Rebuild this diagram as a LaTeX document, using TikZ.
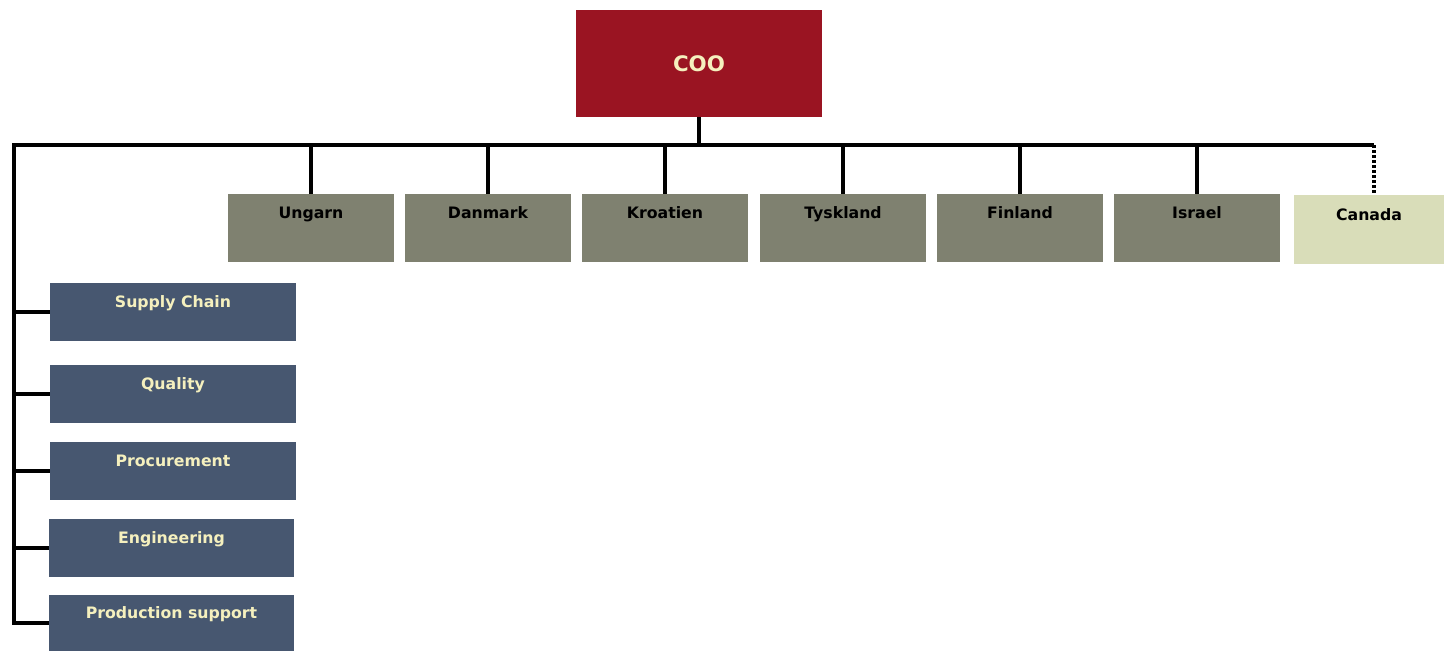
\documentclass[tikz,border=0pt]{standalone}
\usepackage{fontspec}
\setmainfont{DejaVu Sans}
\begin{document}
\begin{tikzpicture}[x=0.75pt,y=-0.75pt,
	link/.style={line width=3pt},
	cooBox/.style={fill=coocolor, text=creamcolor, minimum width=184.5pt, minimum height=80.25pt, inner sep=0pt, font=\bfseries\fontsize{16}{19}\selectfont},
	countryBox/.style={fill=countrycolor, minimum width=124.5pt, minimum height=51pt, inner sep=0pt, font=\bfseries\fontsize{11.8}{14}\selectfont, text height=8.5pt, text depth=22.5pt},
	funcBox/.style={fill=funccolor, text=creamcolor, minimum width=184.5pt, minimum height=43.5pt, inner sep=0pt, font=\bfseries\fontsize{11.8}{14}\selectfont, text height=8.5pt, text depth=15.5pt}]
	% Define colors for boxes
	\definecolor{coocolor}{RGB}{154, 20, 34}
	\definecolor{countrycolor}{RGB}{127, 129, 112}
	\definecolor{canadacolor}{RGB}{217, 221, 185}
	\definecolor{funccolor}{RGB}{71, 87, 112}
	\definecolor{creamcolor}{RGB}{245, 240, 190}
	
	\useasboundingbox (0,0) rectangle (1444,651);
	
	% Top
	\node[cooBox] (coo) at (699,63.5) {COO};
	
	% Bus ends
	\coordinate (busL) at (14,145);
	\coordinate (busR) at (1374,145);
	
	% Countries
	\node[countryBox] (ungarn) at (311,228) {Ungarn};
	\node[countryBox] (danmark) at (488,228) {Danmark};
	\node[countryBox] (kroatien) at (665,228) {Kroatien};
	\node[countryBox] (tyskland) at (843,228) {Tyskland};
	\node[countryBox] (finland) at (1020,228) {Finland};
	\node[countryBox] (israel) at (1197,228) {Israel};
	\node[countryBox, fill=canadacolor, minimum width=112.5pt, minimum height=51.75pt] (canada) at (1369,229.5) {Canada};
	
	% Functions
	\node[funcBox] (supply) at (173,312) {Supply Chain};
	\node[funcBox] (quality) at (173,394) {Quality};
	\node[funcBox] (procure) at (173,471) {Procurement};
	\node[funcBox, minimum width=183.75pt] (engineer) at (171.5,548) {Engineering};
	\node[funcBox, minimum width=183.75pt, minimum height=42pt] (prodsup) at (171.5,623) {Production support};
	
	% Connectors
	\draw[link] (busR) -- (busL) |- (prodsup.west);
	\draw[link] (coo.south) -- (coo.south |- busL);
	\foreach \c in {ungarn,danmark,kroatien,tyskland,finland,israel}
		\draw[link] (\c.north) -- (\c.north |- busL);
	\draw[link, dash pattern=on 2.25pt off 1.5pt] (busR) -- (busR |- canada.north);
	\foreach \f in {supply,quality,procure,engineer}
		\draw[link] (busL |- \f.west) -- (\f.west);
\end{tikzpicture}
\end{document}
